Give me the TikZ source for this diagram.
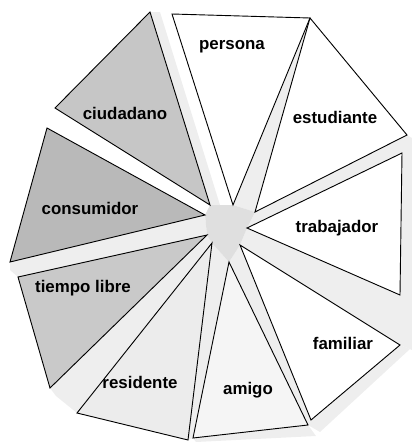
\documentclass[tikz,border=0pt]{standalone}
\usepackage{fontspec}
\setmainfont{Liberation Sans}
\begin{document}
\begin{tikzpicture}[x=0.025cm, y=-0.025cm,
    wedge/.style={draw, line width=0.65pt, line join=miter},
    gap/.style={fill=gray!13},
    lbl/.style={font=\bfseries\fontsize{12}{14}\selectfont}]
    \useasboundingbox (0,0) rectangle (412,442);
    \fill[gap] (210,205) -- (150,12) -- (160,12) -- (220,205) -- cycle;
    \fill[gap] (233,205) -- (310,18) -- (255,212) -- cycle;
    \fill[gap] (255,212) -- (407,135) -- (412,138) -- (412,350) -- (400,345) -- (240,245) -- (247,228) -- cycle;
    \fill[gap] (240,245) -- (400,345) -- (410,349) -- (320,432) -- (308,425) -- (229,262) -- cycle;
    \fill[gap] (308,425) -- (316,436) -- (196,442) -- (193,438) -- cycle;
    \fill[gap] (229,262) -- (193,438) -- (188,440) -- (212,243) -- cycle;
    \fill[gap] (212,243) -- (77,413) -- (56,396) -- (50,388) -- (207,235) -- cycle;
    \fill[gap] (207,235) -- (18,277) -- (10,270) -- (10,262) -- (205,215) -- cycle;
    \fill[gray!25] (210,205) -- (233,205) -- (255,212) -- (247,228) -- (240,245) -- (229,262) -- (212,243) -- (207,235) -- (205,215) -- cycle;
    \filldraw[wedge, fill=white] (233,205) -- (172,14) -- (310,18) -- cycle;
    \filldraw[wedge, fill=white] (255,212) -- (310,18) -- (407,135) -- cycle;
    \filldraw[wedge, fill=white] (247,228) -- (402,153) -- (400,295) -- cycle;
    \filldraw[wedge, fill=white] (240,245) -- (400,345) -- (311,420) -- cycle;
    \filldraw[wedge, fill=gray!8] (229,262) -- (308,425) -- (193,438) -- cycle;
    \filldraw[wedge, fill=gray!15] (212,243) -- (188,440) -- (77,413) -- cycle;
    \filldraw[wedge, fill=gray!42] (207,235) -- (50,388) -- (18,277) -- cycle;
    \filldraw[wedge, fill=gray!55] (205,215) -- (10,262) -- (47,128) -- cycle;
    \filldraw[wedge, fill=gray!45] (210,205) -- (55,108) -- (150,12) -- cycle;
    \node[lbl] (persona) at (232,47) {persona};
    \node[lbl] (estudiante) at (335,117) {estudiante};
    \node[lbl] (trabajador) at (337,228) {trabajador};
    \node[lbl] (familiar) at (343,343) {familiar};
    \node[lbl] (amigo) at (248,390) {amigo};
    \node[lbl] (residente) at (140,382) {residente};
    \node[lbl] (tiempo) at (83,288) {tiempo libre};
    \node[lbl] (consumidor) at (90,208) {consumidor};
    \node[lbl] (ciudadano) at (125,113) {ciudadano};
\end{tikzpicture}
\end{document}
